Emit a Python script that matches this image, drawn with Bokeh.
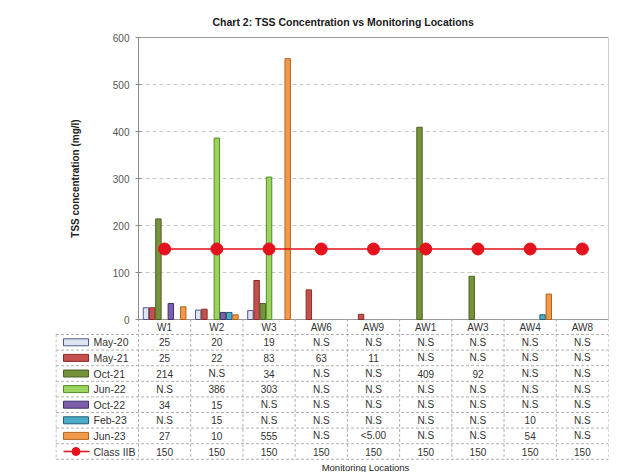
from bokeh.plotting import figure
from bokeh.models import Range1d, FixedTicker, ColumnDataSource
from bokeh.core.properties import value
from bokeh.embed import file_html
from bokeh.resources import INLINE

# ---------------- data ----------------
locations = ["W1", "W2", "W3", "AW6", "AW9", "AW1", "AW3", "AW4", "AW8"]
series_names = ["May-20", "May-21", "Oct-21", "Jun-22", "Oct-22", "Feb-23", "Jun-23"]
may20 = ["25", "20", "19", "N.S", "N.S", "N.S", "N.S", "N.S", "N.S"]
may21 = ["25", "22", "83", "63", "11", "N.S", "N.S", "N.S", "N.S"]
oct21 = ["214", "N.S", "34", "N.S", "N.S", "409", "92", "N.S", "N.S"]
jun22 = ["N.S", "386", "303", "N.S", "N.S", "N.S", "N.S", "N.S", "N.S"]
oct22 = ["34", "15", "N.S", "N.S", "N.S", "N.S", "N.S", "N.S", "N.S"]
feb23 = ["N.S", "15", "N.S", "N.S", "N.S", "N.S", "N.S", "10", "N.S"]
jun23 = ["27", "10", "555", "N.S", "<5.00", "N.S", "N.S", "54", "N.S"]
class_iib = [150, 150, 150, 150, 150, 150, 150, 150, 150]
y_ticks = [0, 100, 200, 300, 400, 500, 600]

series_values = [may20, may21, oct21, jun22, oct22, feb23, jun23]
fill_colors = ["#dde4f2", "#c4504c", "#76923a", "#9ad45c", "#7d5fab", "#4cadc8", "#f29a4c"]
line_colors = ["#4b5a8e", "#8a2b28", "#4d6226", "#55892a", "#3f2f6c", "#205f74", "#b0651e"]
class_color = "#e3121c"

# ---------------- layout constants (pixels) ----------------
FONT = "Liberation Sans"
W, H = 620, 472
FRAME_L, FRAME_R, FRAME_T = 55, 608, 28
CHART_L, CHART_T, ZERO_PX = 138, 37, 319
ROW_TOP, ROW_H = 334, 15.6
n_cat = len(locations)
n_ser = len(series_names)
ux = (FRAME_R - CHART_L) / n_cat          # px per category
uy = (ZERO_PX - CHART_T) / 600.0          # px per value unit
X0 = -0.5 - (CHART_L - FRAME_L) / ux
Y0 = 600 - (H - CHART_T) / uy
Y1 = 600 + (CHART_T - FRAME_T) / uy
T_BOT = (H - ROW_TOP) / ROW_H
T_TOP = -(ROW_TOP - FRAME_T) / ROW_H
slot = 0.119
bar_w = 0.104


def px_x(px):
    return -0.5 + (px - CHART_L) / ux


def to_num(s):
    try:
        return float(s)
    except ValueError:
        return None


p = figure(width=W, height=H, x_range=Range1d(X0, n_cat - 0.5), y_range=Range1d(Y0, Y1),
           output_backend="svg", toolbar_location=None, x_axis_location=None,
           min_border_left=FRAME_L, min_border_right=W - FRAME_R, min_border_top=FRAME_T,
           min_border_bottom=0)
p.extra_y_ranges = {"tbl": Range1d(start=T_BOT, end=T_TOP)}
p.outline_line_color = None
p.grid.visible = False

p.title.text = "Chart 2: TSS Concentration vs Monitoring Locations"
p.title.align = "left"
p.title.offset = 212 - FRAME_L
p.title.text_font = FONT
p.title.text_font_size = "10.5px"
p.title.text_font_style = "bold"
p.title.text_color = "#1a1a1a"
p.title.standoff = 2

# y axis sitting on the left edge of the chart area
yax = p.yaxis[0]
yax.fixed_location = -0.5
yax.bounds = (0, 600)
yax.ticker = FixedTicker(ticks=y_ticks)
yax.axis_label = "TSS concentration (mg/l)"
yax.axis_label_text_font = FONT
yax.axis_label_text_font_size = "10px"
yax.axis_label_text_font_style = "bold"
yax.axis_label_text_color = "#222222"
yax.axis_label_standoff = 29
yax.major_label_text_font = FONT
yax.major_label_text_font_size = "10px"
yax.major_label_text_color = "#555555"
yax.axis_line_color = "#8a8a8a"
yax.major_tick_line_color = "#8a8a8a"
yax.major_tick_in = 3
yax.major_tick_out = 3
yax.minor_tick_line_color = None
yax.major_label_standoff = 6

# chart frame and grid
p.quad(left=[-0.5], right=[n_cat - 0.5], bottom=[0], top=[600], fill_color=None,
       line_color="#9a9a9a", line_width=1)
gy = y_ticks[1:-1]
p.segment(x0=[-0.5] * len(gy), x1=[n_cat - 0.5] * len(gy), y0=gy, y1=gy,
          line_color="#c8c8c8", line_dash="4 3", line_width=1)

# bars
for s in range(n_ser):
    xs, tops = [], []
    for i in range(n_cat):
        v = to_num(series_values[s][i])
        if v is not None:
            xs.append(i + (s - (n_ser - 1) / 2) * slot)
            tops.append(v)
    src = ColumnDataSource(dict(x=xs, top=tops))
    p.vbar(x="x", top="top", bottom=0, width=bar_w, source=src,
           fill_color=fill_colors[s], line_color=line_colors[s], line_width=1)

p.line(x=list(range(n_cat)), y=class_iib, line_color=class_color, line_width=1.5)
p.scatter(x=list(range(n_cat)), y=class_iib, size=12, fill_color=class_color, line_color=class_color)

# ---------------- data table ----------------
n_rows = n_ser + 1
tl = X0 + 0.01
hy = list(range(n_rows + 1))
p.segment(x0=[tl] * len(hy), x1=[n_cat - 0.5] * len(hy), y0=hy, y1=hy, y_range_name="tbl",
          line_color="#b0b0b0", line_dash="3 2", line_width=1)
vx = [i - 0.5 for i in range(n_cat + 1)]
p.segment(x0=vx, x1=vx, y0=[-1] * len(vx), y1=[n_rows] * len(vx), y_range_name="tbl",
          line_color="#b0b0b0", line_dash="3 2", line_width=1)
p.segment(x0=[tl], x1=[tl], y0=[0], y1=[n_rows], y_range_name="tbl",
          line_color="#b0b0b0", line_dash="3 2", line_width=1)

# header: location names
p.text(x=list(range(n_cat)), y=[-0.45] * n_cat, text=locations, y_range_name="tbl",
       text_font=value(FONT), text_font_size="10px", text_color="#333333",
       text_align="center", text_baseline="middle")

# legend column
sw_x = px_x(75.5)
txt_x = px_x(93)
p.rect(x=[sw_x] * n_ser, y=[r + 0.5 for r in range(n_ser)], width=25 / ux, height=7 / ROW_H,
       y_range_name="tbl", fill_color=fill_colors, line_color=line_colors, line_width=1)
row_labels = series_names + ["Class IIB"]
p.text(x=[txt_x] * n_rows, y=[r + 0.5 for r in range(n_rows)], text=row_labels, y_range_name="tbl",
       text_font=value(FONT), text_font_size="10.5px", text_color="#333333",
       text_align="left", text_baseline="middle")
p.line(x=[px_x(63), px_x(89)], y=[n_ser + 0.5, n_ser + 0.5], y_range_name="tbl",
       line_color=class_color, line_width=1.5)
p.scatter(x=[sw_x], y=[n_ser + 0.5], size=8, y_range_name="tbl",
          fill_color=class_color, line_color=class_color)

# cell values
cx, cy, ct = [], [], []
table_rows = series_values + [[str(v) for v in class_iib]]
for r, row in enumerate(table_rows):
    for i, s in enumerate(row):
        cx.append(i)
        cy.append(r + 0.5)
        ct.append(s)
p.text(x=cx, y=cy, text=ct, y_range_name="tbl", text_font=value(FONT), text_font_size="10px",
       text_color="#333333", text_align="center", text_baseline="middle")

p.text(x=[px_x(365)], y=[(467 - ROW_TOP) / ROW_H], text=["Monitoring Locations"], y_range_name="tbl",
       text_font=value(FONT), text_font_size="9.5px", text_color="#222222",
       text_align="center", text_baseline="middle")

open("out.html", "w").write(file_html(p, INLINE))
